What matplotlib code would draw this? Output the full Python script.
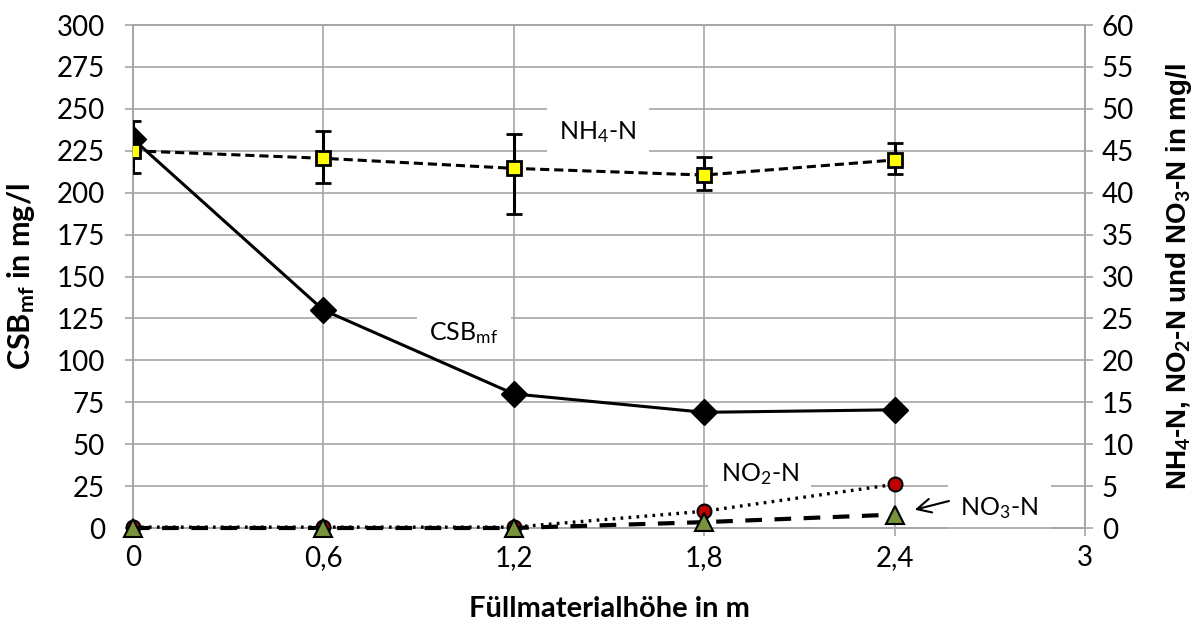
import matplotlib
matplotlib.use("Agg")
import matplotlib.pyplot as plt

# Füllmaterialhöhe in m
hoehe = [0, 0.6, 1.2, 1.8, 2.4]
# CSBmf in mg/l (left axis)
csb = [232, 130, 80, 69, 70.5]
# NH4-N, NO2-N, NO3-N in mg/l (right axis)
nh4 = [45.0, 44.1, 42.9, 42.1, 43.9]
nh4_err_lo = [2.7, 3.0, 5.4, 1.8, 1.7]
nh4_err_hi = [3.5, 3.2, 4.1, 2.2, 2.0]
no2 = [0.1, 0.1, 0.1, 2.0, 5.2]
no3 = [0.0, 0.0, 0.0, 0.7, 1.6]

x_ticks = [0, 0.6, 1.2, 1.8, 2.4, 3]
x_ticklabels = ["0", "0,6", "1,2", "1,8", "2,4", "3"]

plt.rcParams["font.family"] = ["Lato", "DejaVu Sans"]
plt.rcParams["mathtext.fontset"] = "custom"
plt.rcParams["mathtext.rm"] = "Lato"
plt.rcParams["mathtext.bf"] = "Lato:bold"
plt.rcParams["mathtext.it"] = "Lato"

GRID = "#a6a6a6"

fig = plt.figure(figsize=(12.01, 6.3), dpi=100)
ax = fig.add_axes([0.1107, 0.1619, 0.9034 - 0.1107, 0.9603 - 0.1619])
ax2 = ax.twinx()

ax.set_xlim(0, 3)
ax.set_ylim(0, 300)
ax2.set_ylim(0, 60)
ax.set_xticks(x_ticks)
ax.set_xticklabels(x_ticklabels)
ax.set_yticks(range(0, 301, 25))
ax2.set_yticks(range(0, 61, 5))

ax.grid(True, color=GRID, lw=1.2)
ax.set_axisbelow(True)
for a in (ax, ax2):
    for s in a.spines.values():
        s.set_color(GRID)
        s.set_linewidth(1.2)
    a.tick_params(colors=GRID, labelcolor="black", labelsize=20, length=6, width=1.2)
ax.tick_params(axis="y", pad=14)
ax.tick_params(axis="x", pad=6)
ax2.tick_params(axis="y", pad=6)

# CSB
ax.plot(hoehe, csb, color="black", lw=2.2, marker="D", ms=13,
        mfc="black", mec="black", zorder=5)

# NH4 with error bars
ax2.errorbar(hoehe, nh4, yerr=[nh4_err_lo, nh4_err_hi], color="black", lw=2.2,
             ls=(0, (3, 1.6)), marker="s", ms=10, mfc="#ffff00", mec="black", mew=2,
             ecolor="black", elinewidth=2.2, capsize=6, capthick=2.2, zorder=6)
# NO2
ax2.plot(hoehe, no2, color="black", lw=2.4, ls=(0, (0.8, 1.6)), marker="o", ms=10,
         mfc="#c00000", mec="black", mew=1.5, zorder=6, clip_on=False)
# NO3
ax2.plot(hoehe, no3, color="black", lw=3, ls=(0, (4, 3)), marker="^", ms=13,
         mfc="#77933c", mec="black", mew=1.5, zorder=7, clip_on=False)

ax.set_xlabel("Füllmaterialhöhe in m", fontsize=21, fontweight="bold", labelpad=18)
ax.set_ylabel(r"CSB$_{\mathbf{mf}}$ in mg/l", fontsize=22, fontweight="bold", labelpad=14)
ax2.set_ylabel(r"NH$_{\mathbf{4}}$-N, NO$_{\mathbf{2}}$-N und NO$_{\mathbf{3}}$-N in mg/l",
               fontsize=20, fontweight="bold", family="Liberation Sans", labelpad=22)

box = dict(facecolor="white", edgecolor="none", boxstyle="square,pad=0.5")
ax.text(1.465, 236, r"NH$_4$-N", fontsize=18, ha="center", va="center", bbox=box, zorder=4)
ax.text(1.043, 116, r"CSB$_{\mathrm{mf}}$", fontsize=18, ha="center", va="center", bbox=box, zorder=4)
ax.text(1.975, 32, r"NO$_2$-N", fontsize=18, ha="center", va="center", bbox=box, zorder=4)
ax.text(2.73, 12, r"NO$_3$-N", fontsize=18, ha="center", va="center", bbox=box, zorder=4)
ax.annotate("", xy=(2.455, 10.5), xytext=(2.58, 16.5),
            arrowprops=dict(arrowstyle="->", color="black", lw=1.5, mutation_scale=25),
            zorder=8)

fig.savefig("out.png", dpi=100)
